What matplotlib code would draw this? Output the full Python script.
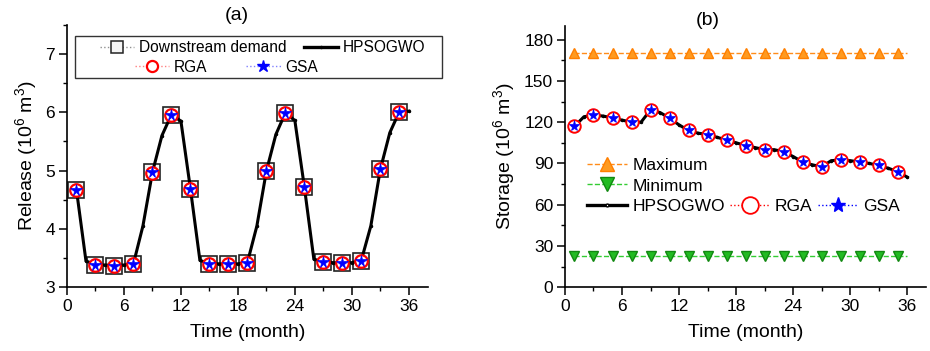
import matplotlib
matplotlib.use("Agg")
import matplotlib.pyplot as plt
from matplotlib.lines import Line2D
from matplotlib.patches import Rectangle
from matplotlib.ticker import MultipleLocator

plt.rcParams['font.family'] = ['Liberation Sans', 'DejaVu Sans']
plt.rcParams['mathtext.fontset'] = 'custom'
plt.rcParams['mathtext.rm'] = 'Liberation Sans'

# ---------------- data ----------------
months_all = list(range(1, 37))
months_odd = list(range(1, 36, 2))

# Panel (a): release
demand = [4.67, 3.38, 3.37, 3.39, 4.97, 5.96, 4.69, 3.40, 3.39, 3.41,
          4.99, 5.99, 4.72, 3.43, 3.41, 3.44, 5.02, 6.01]
rga_release = [4.67, 3.38, 3.37, 3.39, 4.96, 5.96, 4.69, 3.40, 3.39, 3.41,
               4.99, 5.99, 4.72, 3.43, 3.41, 3.44, 5.02, 6.01]
gsa_release = [4.67, 3.38, 3.37, 3.39, 4.97, 5.96, 4.69, 3.40, 3.39, 3.41,
               4.99, 5.99, 4.72, 3.43, 3.41, 3.44, 5.02, 6.01]
hpsogwo_release = [4.67, 3.45, 3.38, 3.38, 3.37, 3.38, 3.40, 4.05, 4.97, 5.60,
                   5.96, 5.85, 4.69, 3.46, 3.40, 3.40, 3.39, 3.40, 3.42, 4.05,
                   4.99, 5.62, 5.99, 5.86, 4.72, 3.48, 3.43, 3.42, 3.41, 3.42,
                   3.46, 4.05, 5.02, 5.65, 6.01, 6.02]

# Panel (b): storage
hpsogwo_storage = [117, 124, 125, 124.5, 123, 121.5, 120, 120, 129, 127,
                   123, 118, 114, 112, 111, 109, 107, 105, 103, 101.5,
                   100, 100, 98.5, 95, 91, 89, 87.5, 92, 92.5, 92,
                   91, 90, 88.5, 86.5, 84, 80]
rga_storage = [117, 125, 123, 120, 129, 123, 114, 111, 107, 103,
               100, 98.5, 91, 87.5, 92.5, 91, 88.5, 84]
gsa_storage = [117, 125, 123, 120, 129, 123, 114, 111, 107, 103,
               100, 98.5, 91, 87.5, 92.5, 91, 88.5, 84]
max_storage = [170] * 36
min_storage = [23] * 36

xticks = [0, 6, 12, 18, 24, 30, 36]

# ---------------- figure ----------------
fig = plt.figure(figsize=(9.30, 3.51), dpi=100)
axa = fig.add_axes([0.072, 0.182, 0.388, 0.747])
axb = fig.add_axes([0.6075, 0.182, 0.3885, 0.744])

def style(ax):
    for s in ('top', 'right'):
        ax.spines[s].set_visible(False)
    ax.spines['left'].set_linewidth(1.2)
    ax.spines['bottom'].set_linewidth(1.2)
    ax.tick_params(which='major', direction='out', length=5.5, width=1.1,
                   labelsize=12.5, pad=3)
    ax.tick_params(which='minor', direction='out', length=3, width=1.0)
    ax.set_xlim(0, 38)
    ax.set_xticks(xticks)
    ax.xaxis.set_minor_locator(MultipleLocator(3))

# ---- (a)
style(axa)
axa.set_ylim(3, 7.5)
axa.set_yticks([3, 4, 5, 6, 7])
axa.yaxis.set_minor_locator(MultipleLocator(0.5))

axa.plot(months_odd, demand, linestyle='none',
         marker='s', ms=11.5, mfc='#f4f4f4', mec='#222222', mew=1.2, zorder=2)
axa.plot(months_all, hpsogwo_release, '-', color='black', lw=2.2,
         marker='o', ms=1.5, zorder=3)
axa.plot(months_odd, rga_release, linestyle='none',
         marker='o', ms=9, mfc='white', mec='red', mew=1.6, zorder=4)
axa.plot(months_odd, rga_release, linestyle='none', marker='.', ms=1.5,
         color='red', zorder=4)
axa.plot(months_odd, gsa_release, linestyle='none',
         marker='*', ms=8.5, mfc='blue', mec='blue', mew=0.5, zorder=5)

axa.set_ylabel('Release (10$^6$ m$^3$)', fontsize=14, labelpad=4)
axa.set_xlabel('Time (month)', fontsize=14, labelpad=7)
fig.text(0.255, 0.955, '(a)', fontsize=14, ha='center', va='center')

# legend (a): framed box with two rows
hd_dem = Line2D([], [], linestyle=':', color='#909090', lw=1.0, marker='s',
                ms=9, mfc='#f4f4f4', mec='#222222', mew=1.1)
hd_hp = Line2D([], [], linestyle='-', color='black', lw=2.4, marker='o', ms=1.5)
hd_rga = Line2D([], [], linestyle=':', color='#ff8080', lw=1.0, marker='o',
                ms=8, mfc='white', mec='red', mew=1.6)
hd_gsa = Line2D([], [], linestyle=':', color='#8080ff', lw=1.0, marker='*',
                ms=9, mfc='blue', mec='blue')
fig.add_artist(Rectangle((0.0806, 0.7778), 0.3947, 0.1196,
                         transform=fig.transFigure, fill=False,
                         edgecolor='#333333', lw=1.0, zorder=10))
common = dict(frameon=False, fontsize=11.2, handlelength=2.2, handletextpad=0.3,
              borderpad=0.0, borderaxespad=0.0, loc='center left',
              bbox_transform=fig.transFigure)
l1 = axa.legend([hd_dem, hd_hp], ['Downstream demand', 'HPSOGWO'], ncol=2,
                columnspacing=1.1, bbox_to_anchor=(100 / 930, 1 - 48 / 351),
                **common)
axa.add_artist(l1)
l2 = axa.legend([hd_rga, hd_gsa], ['RGA', 'GSA'], ncol=2,
                columnspacing=2.5, bbox_to_anchor=(135 / 930, 1 - 67 / 351),
                **common)

# ---- (b)
style(axb)
axb.set_ylim(0, 190)
axb.set_yticks([0, 30, 60, 90, 120, 150, 180])
axb.yaxis.set_minor_locator(MultipleLocator(15))

axb.plot(months_all, max_storage, '--', color='#ff8c1a', lw=1.0,
         marker='^', ms=6.5, mfc='#ff9a20', mec='#ff7f00', markevery=2,
         zorder=2)
axb.plot(months_all, min_storage, '--', color='#33cc33', lw=1.0,
         marker='v', ms=6.5, mfc='#22bb22', mec='#118811', markevery=2,
         zorder=2)
axb.plot(months_all, hpsogwo_storage, '-', color='black', lw=2.2,
         marker='o', ms=1.5, zorder=3)
axb.plot(months_odd, rga_storage, linestyle='none',
         marker='o', ms=9, mfc='white', mec='red', mew=1.4, zorder=4)
axb.plot(months_odd, rga_storage, linestyle='none', marker='.', ms=1.5,
         color='red', zorder=4)
axb.plot(months_odd, gsa_storage, linestyle='none',
         marker='*', ms=8, mfc='blue', mec='blue', mew=0.5, zorder=5)

axb.set_ylabel('Storage (10$^6$ m$^3$)', fontsize=14, labelpad=4)
axb.set_xlabel('Time (month)', fontsize=14, labelpad=7)
fig.text(0.761, 0.943, '(b)', fontsize=14, ha='center', va='center')

blank = Line2D([], [], linestyle='none', marker='none')
h_max = Line2D([], [], linestyle='--', color='#ff8c1a', lw=1.0, marker='^',
               ms=10, mfc='#ff9a20', mec='#ff7f00')
h_min = Line2D([], [], linestyle='--', color='#33cc33', lw=1.0, marker='v',
               ms=10, mfc='#22bb22', mec='#118811')
h_hp = Line2D([], [], linestyle='-', color='black', lw=2.4, marker='o', ms=2,
              mfc='white')
h_rga = Line2D([], [], linestyle=':', color='red', lw=1.0, marker='o', ms=12,
               mfc='white', mec='red', mew=1.3)
h_gsa = Line2D([], [], linestyle=':', color='blue', lw=1.0, marker='*',
               ms=11, mfc='blue', mec='blue')
lb = axb.legend([h_max, h_min, h_hp, blank, blank, h_rga, blank, blank, h_gsa],
                ['Maximum', 'Minimum', 'HPSOGWO', '', '', 'RGA', '', '', 'GSA'],
                ncol=3, loc='upper left', bbox_to_anchor=(587 / 930, 1 - 158 / 351),
                bbox_transform=fig.transFigure, frameon=False, fontsize=12.5,
                handlelength=2.3, handletextpad=0.3, labelspacing=0.3,
                columnspacing=0.3, borderpad=0.0, borderaxespad=0.0)

fig.savefig('out.png', dpi=100)
